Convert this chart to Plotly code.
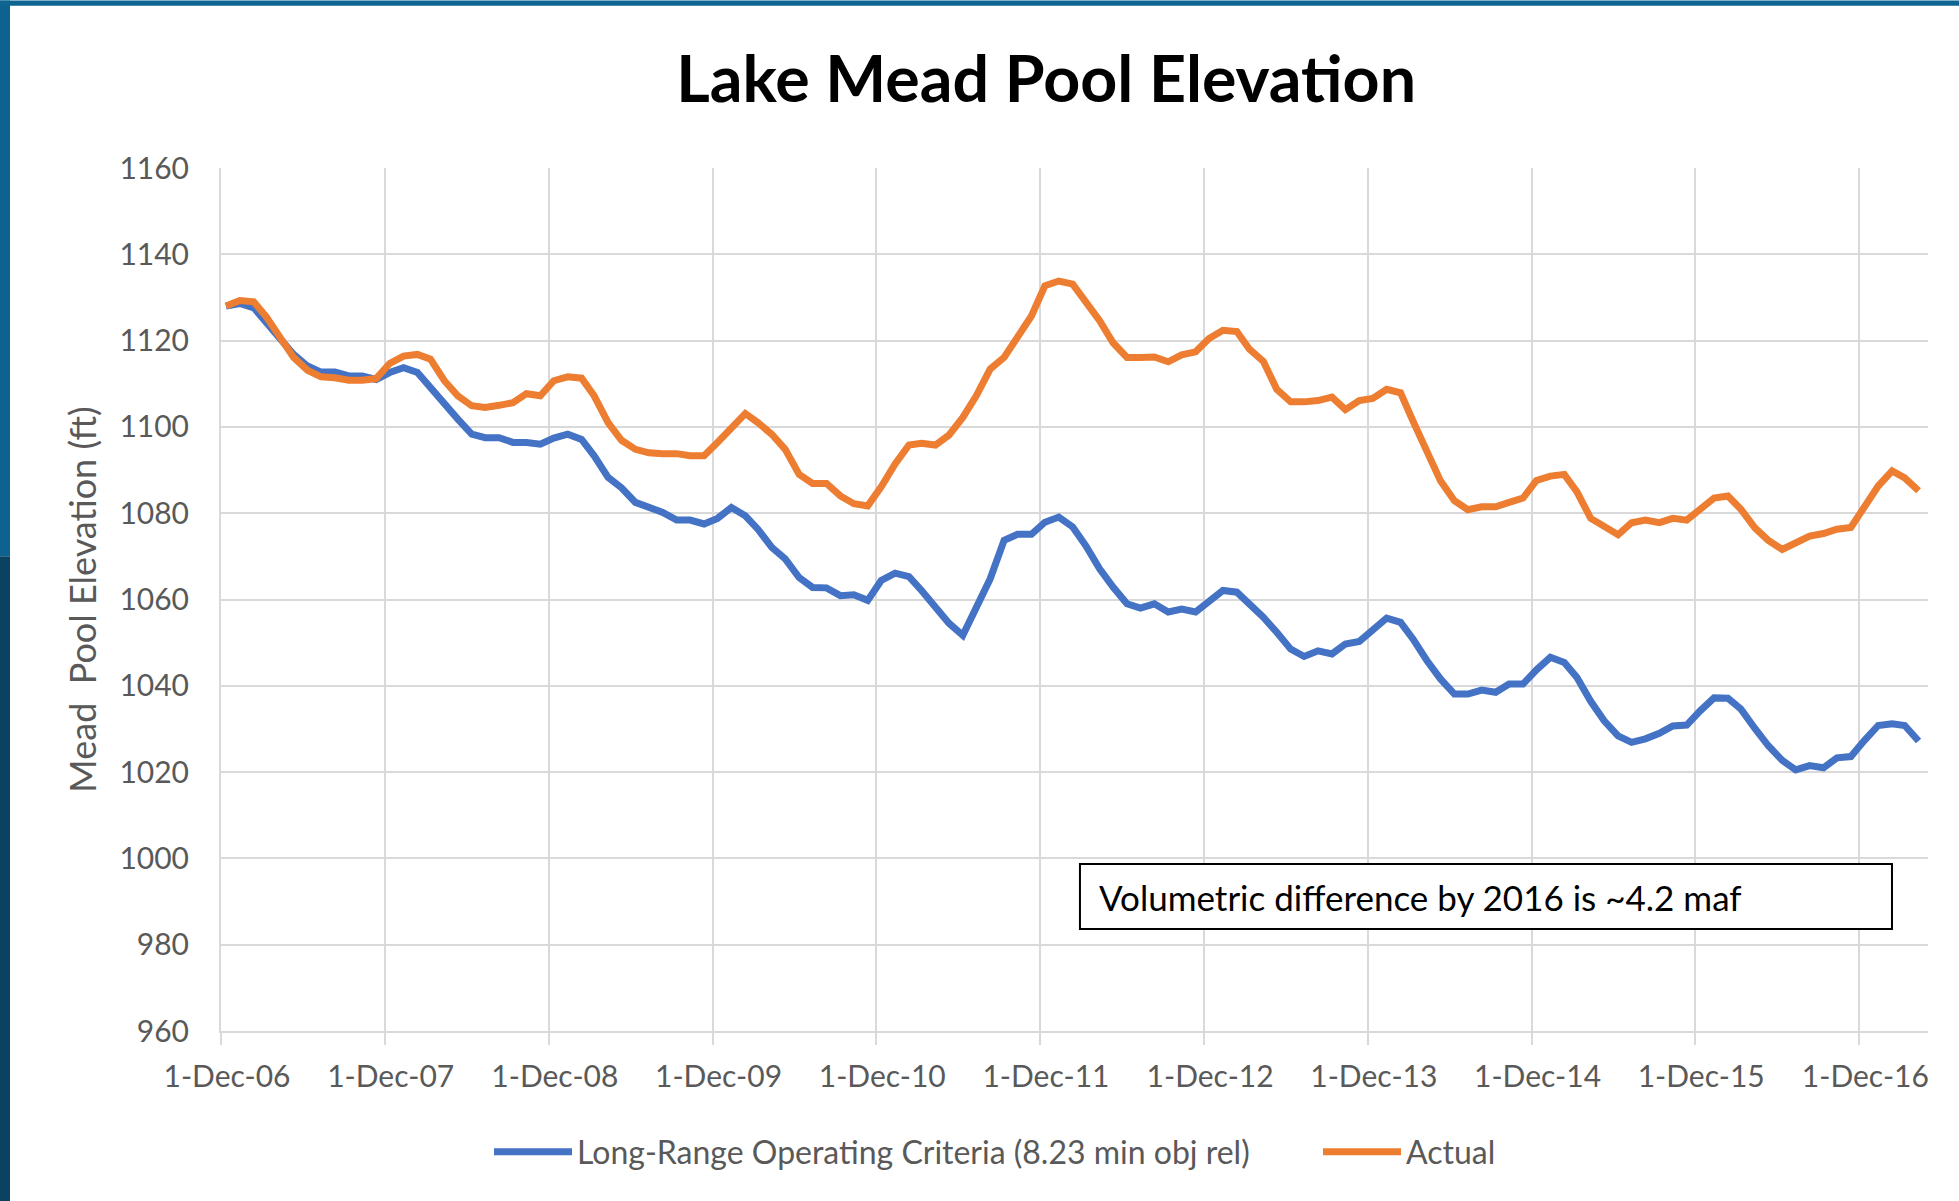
import pandas as pd
import plotly.graph_objects as go

# monthly points, Dec 2006 - Apr 2017
months = pd.date_range("2006-12-12", periods=125, freq=pd.DateOffset(months=1))

lroc = [
    1128.0, 1128.6, 1127.6, 1124.2, 1120.3, 1116.8, 1114.1, 1112.7, 1112.7, 1111.8, 1111.8, 1111.0,
    1112.6, 1113.7, 1112.6, 1109.1, 1104.9, 1101.8, 1098.3, 1097.5, 1097.5, 1096.4, 1096.4, 1096.0,
    1097.4, 1098.3, 1097.1, 1093.3, 1088.3, 1085.9, 1082.5, 1081.3, 1080.2, 1078.4, 1078.4, 1077.5,
    1078.8, 1081.3, 1079.4, 1076.3, 1072.1, 1069.4, 1065.1, 1062.8, 1062.7, 1060.9, 1061.1, 1059.8,
    1064.4, 1066.1, 1065.3, 1062.1, 1058.2, 1054.5, 1051.7, 1057.8, 1064.8, 1073.7, 1075.1, 1075.1,
    1077.9, 1079.1, 1076.8, 1072.5, 1067.1, 1062.9, 1059.0, 1058.0, 1059.0, 1057.1, 1057.8, 1057.1,
    1059.4, 1062.1, 1061.7, 1059.0, 1055.9, 1052.4, 1048.5, 1046.8, 1048.1, 1047.4, 1049.7, 1050.3,
    1052.8, 1055.7, 1054.7, 1050.8, 1045.8, 1041.6, 1038.1, 1038.1, 1039.0, 1038.5, 1040.4, 1040.4,
    1043.7, 1046.6, 1045.4, 1042.0, 1036.4, 1031.9, 1028.4, 1026.9, 1027.7, 1029.0, 1030.7, 1030.9,
    1034.2, 1037.2, 1037.1, 1034.6, 1030.1, 1026.1, 1022.7, 1020.5, 1021.5, 1021.0, 1023.3, 1023.6,
    1027.3, 1030.8, 1031.2, 1030.8, 1027.2,
]

actual = [
    1128.0, 1129.3, 1129.0, 1125.5, 1120.7, 1116.1, 1113.1, 1111.6, 1111.4, 1110.8, 1110.8, 1111.2,
    1114.7, 1116.4, 1116.8, 1115.7, 1110.7, 1107.2, 1104.9, 1104.5, 1105.0, 1105.6, 1107.7, 1107.2,
    1110.7, 1111.6, 1111.3, 1107.2, 1101.0, 1096.9, 1094.8, 1094.0, 1093.8, 1093.8, 1093.3, 1093.3,
    1096.4, 1100.0, 1103.1, 1101.0, 1098.3, 1094.8, 1089.0, 1086.9, 1086.9, 1084.0, 1082.2, 1081.7,
    1086.1, 1091.4, 1095.8, 1096.2, 1095.8, 1098.1, 1102.2, 1107.2, 1113.4, 1116.1, 1121.1, 1125.7,
    1132.7, 1133.8, 1133.1, 1129.2, 1124.6, 1119.5, 1116.1, 1116.1, 1116.2, 1115.1, 1116.7, 1117.4,
    1120.5, 1122.4, 1122.1, 1118.0, 1115.2, 1108.7, 1105.8, 1105.8, 1106.1, 1106.9, 1104.0, 1106.1,
    1106.6, 1108.7, 1107.9, 1101.3, 1094.0, 1087.5, 1082.9, 1080.8, 1081.5, 1081.5, 1082.5, 1083.5,
    1087.6, 1088.6, 1089.0, 1085.0, 1078.8, 1076.8, 1075.0, 1077.8, 1078.4, 1077.8, 1078.8, 1078.4,
    1081.1, 1083.5, 1084.0, 1080.9, 1076.6, 1073.7, 1071.6, 1073.2, 1074.7, 1075.3, 1076.3, 1076.7,
    1081.3, 1086.3, 1089.8, 1088.2, 1085.2,
]

series_names = ["Long-Range Operating Criteria (8.23 min obj rel)", "Actual"]
note_text = "Volumetric difference by 2016 is ~4.2 maf"

BLUE = "#4472C4"
ORANGE = "#ED7D31"
GRID = "#D9D9D9"
LABEL = "#595959"
FONT = "Lato"

fig = go.Figure()
fig.add_trace(go.Scatter(x=months, y=lroc, mode="lines", name=series_names[0],
                         line=dict(color=BLUE, width=7), legend="legend"))
fig.add_trace(go.Scatter(x=months, y=actual, mode="lines", name=series_names[1],
                         line=dict(color=ORANGE, width=7), legend="legend2"))

leg = dict(orientation="h", xref="container", yref="container", xanchor="left",
           y=0.0408, yanchor="middle", itemwidth=78,
           font=dict(family=FONT, size=32, color=LABEL), bgcolor="rgba(0,0,0,0)")

fig.update_layout(
    width=1959, height=1201, autosize=False,
    margin=dict(l=221, r=31, t=168, b=170),
    paper_bgcolor="white", plot_bgcolor="white",
    font=dict(family=FONT, size=30, color=LABEL),
    title=dict(text="<b>Lake Mead Pool Elevation</b>", x=0.534, xref="container", xanchor="center",
               y=0.934, yref="container", yanchor="middle",
               font=dict(family=FONT, size=64.5, color="black")),
    showlegend=True,
    legend=dict(leg, x=489 / 1959),
    legend2=dict(leg, x=1318 / 1959),
)

fig.update_xaxes(
    type="date", range=["2006-12-01", "2017-05-03"],
    tick0="2006-12-01", dtick="M12", tickformat="%-d-%b-%y",
    showgrid=True, gridcolor=GRID, gridwidth=2,
    showline=True, linecolor=GRID, linewidth=2,
    ticks="outside", ticklen=12, tickwidth=2, tickcolor=GRID,
    ticklabelstandoff=6, ticklabelshift=6,
    tickfont=dict(family=FONT, size=30, color=LABEL),
)
fig.update_yaxes(
    range=[960, 1160], dtick=20,
    showgrid=True, gridcolor=GRID, gridwidth=2,
    showline=True, linecolor=GRID, linewidth=2,
    zeroline=False, ticks="",
    ticklabelstandoff=24,
    tickfont=dict(family=FONT, size=30, color=LABEL),
    title=dict(text="Mead\u00a0 Pool Elevation (ft)", standoff=12,
               font=dict(family=FONT, size=36, color=LABEL)),
)

# text box
fig.add_shape(type="rect", xref="paper", yref="paper",
              x0=0.5032, x1=0.9789, y0=0.1181, y1=0.1934,
              line=dict(color="black", width=2), fillcolor="white", layer="above")
fig.add_annotation(text=note_text, xref="paper", yref="paper", x=0.5132, y=0.1552,
                   xanchor="left", yanchor="middle", showarrow=False,
                   font=dict(family=FONT, size=35, color="black"))

# slide frame (blue strips at left and top)
fig.add_shape(type="rect", xref="paper", yref="paper", x0=-0.1295, x1=-0.1236, y0=-0.1969, y1=0.55,
              line=dict(width=0), fillcolor="#0B4262", layer="below")
fig.add_shape(type="rect", xref="paper", yref="paper", x0=-0.1295, x1=-0.1236, y0=0.55, y1=1.194,
              line=dict(width=0), fillcolor="#0D6390", layer="below")
fig.add_shape(type="rect", xref="paper", yref="paper", x0=-0.1295, x1=1.0182, y0=1.188, y1=1.194,
              line=dict(width=0), fillcolor="#0D6591", layer="below")

fig.write_html("out.html", config={"displayModeBar": False},
               post_script="document.body.style.margin='0px';")
